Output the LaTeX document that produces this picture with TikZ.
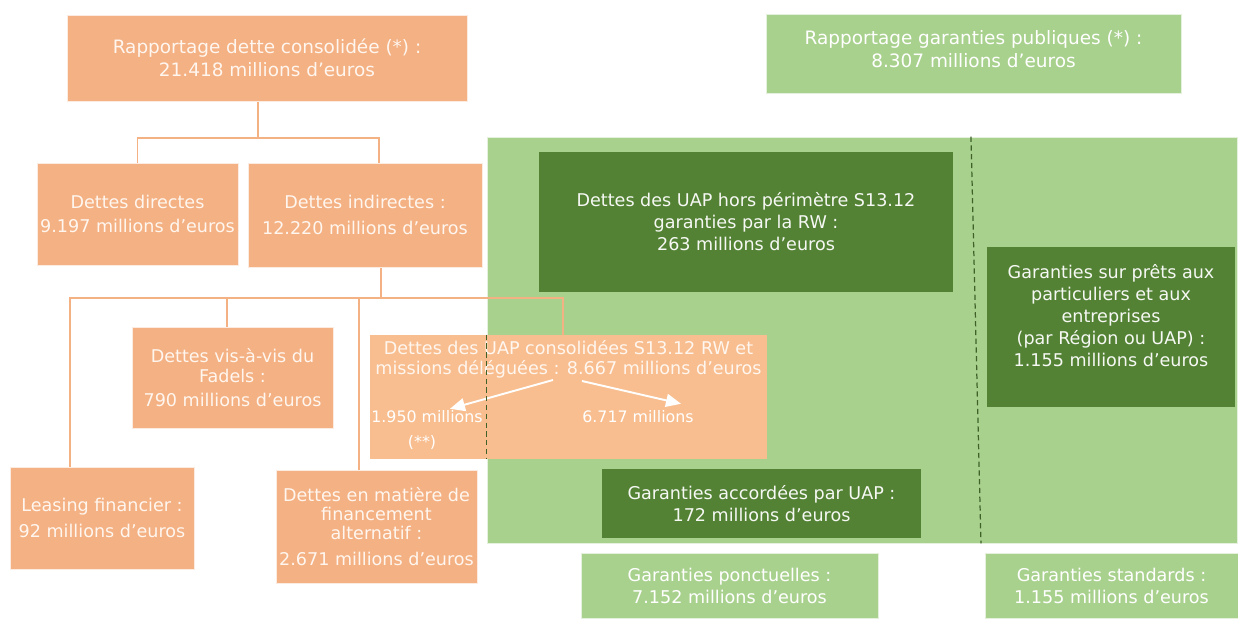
\documentclass[tikz,border=0pt]{standalone}
\usepackage{fontspec}
\setmainfont{DejaVu Sans}
\usetikzlibrary{arrows.meta, positioning, calc, backgrounds}
\definecolor{orbox}{HTML}{F4B183}
\definecolor{orlight}{HTML}{F8BE8F}
\definecolor{grlight}{HTML}{A9D18E}
\definecolor{grdark}{HTML}{548235}
\definecolor{txtor}{HTML}{FFF6EF}

\begin{document}
\begin{tikzpicture}[
    x=0.02cm, y=-0.02cm,
    every node/.style={font=\fontsize{10}{12.5}\selectfont, align=center, inner sep=0pt},
    obox/.style={rectangle, fill=orbox, draw=white!75!orbox, line width=0.5pt, text=txtor},
    gbox/.style={rectangle, fill=grlight, draw=white!70!grlight, line width=0.5pt, text=white},
    dbox/.style={rectangle, fill=grdark, text=white!94!grdark},
    big/.style={font=\fontsize{10.5}{13}\selectfont},
    link/.style={draw=orbox, line width=1.1pt},
    sep/.style={draw=grdark!75!black, dash pattern=on 3pt off 2pt, line width=0.7pt},
    warr/.style={-{Triangle[length=3mm, width=2.6mm]}, draw=white, line width=1.1pt},
    lbl/.style={font=\fontsize{9}{11}\selectfont, text=white, inner sep=1pt}
]
    \useasboundingbox (0,0) rectangle (1238,619);

    \node[obox, big, minimum width=8cm, minimum height=1.72cm]   (dette)      at (267,58)     {Rapportage dette consolidée (*) :\\21.418 millions d’euros};
    \node[gbox, big, minimum width=8.3cm, minimum height=1.58cm] (garpub)     at (973.5,53.5) {};
    \node[big, text=white] (garpublbl) at (973.5,49) {Rapportage garanties publiques (*) :\\8.307 millions d’euros};
    \node[obox, minimum width=4.02cm, minimum height=2.04cm]     (directes)   at (137.5,214)  {Dettes directes\\[1pt]9.197 millions d’euros};
    \node[obox, minimum width=4.68cm, minimum height=2.08cm]     (indirectes) at (365,215)    {Dettes indirectes :\\[2pt]12.220 millions d’euros};
    \node[obox, minimum width=4.02cm, minimum height=2.02cm]     (fadels)     at (232.5,377.5){Dettes vis-à-vis du\\[-1pt]Fadels :\\[1pt]790 millions d’euros};
    \node[obox, minimum width=3.68cm, minimum height=2.04cm]     (leasing)    at (102,518)    {Leasing financier :\\[2pt]92 millions d’euros};
    \node[obox, minimum width=4.02cm, minimum height=2.26cm]     (alternatif) at (376.5,526.5){Dettes en matière de\\[-1.5pt]financement\\[-1.5pt]alternatif :\\[2pt]2.671 millions d’euros};

    \node[rectangle, fill=orlight, minimum width=7.94cm, minimum height=2.48cm] (uapcons) at (568.5,397) {};
    \node[text=txtor, below=0.1cm of uapcons.north] (uaplbl) {Dettes des UAP consolidées S13.12 RW et\\[-1pt]missions déléguées : 8.667 millions d’euros};
    \node[lbl] (n1950)  at (427,417) {1.950 millions};
    \node[lbl] (n1950b) at (422,443) {(**)};
    \node[lbl] (n6717)  at (638,417) {6.717 millions};

    \begin{scope}[on background layer]
    \node[gbox, minimum width=15.02cm, minimum height=8.12cm] (garzone) at (862.5,340) {};
    \coordinate (top) at (258,138);
    \coordinate (bus) at (381,298);
    \draw[link] (dette.south -| top) -- (top);
    \draw[link] (directes.north) |- (top) -| ([xshift=0.28cm]indirectes.north);
    \draw[link] ([xshift=0.32cm]indirectes.south) -- (bus);
    \draw[link] ([xshift=-0.64cm]leasing.north) |- (bus) -| ([xshift=-0.11cm]uapcons.north);
    \draw[link] (bus) -| ([xshift=-0.11cm]fadels.north);
    \draw[link] (bus) -| ([xshift=-0.35cm]alternatif.north);
    \end{scope}

    \coordinate (splitl) at (553,380);
    \coordinate (splitr) at (582,381);
    \draw[warr] (splitl) -- ([xshift=0.46cm]n1950.north);
    \draw[warr] (splitr) -- ([xshift=0.86cm,yshift=0.1cm]n6717.north);
    \draw[sep] (uapcons.north -| garzone.west) -- (uapcons.south -| garzone.west);

    \node[dbox, minimum width=8.28cm, minimum height=2.8cm]  (horsper)  at (746,222)      {Dettes des UAP hors périmètre S13.12\\garanties par la RW :\\263 millions d’euros};
    \node[dbox, minimum width=4.96cm, minimum height=3.2cm]  (prets)    at (1111,327)     {};
    \node[text=white!94!grdark] (pretslbl) at (1111,316) {Garanties sur prêts aux\\particuliers et aux\\entreprises\\(par Région ou UAP) :\\1.155 millions d’euros};
    \node[dbox, minimum width=6.38cm, minimum height=1.38cm] (accord)   at (761.5,503.5)  {Garanties accordées par UAP :\\172 millions d’euros};
    \node[gbox, minimum width=5.94cm, minimum height=1.3cm]  (ponct)    at (729.5,585.5)  {Garanties ponctuelles :\\7.152 millions d’euros};
    \node[gbox, minimum width=5.06cm, minimum height=1.3cm]  (standard) at (1111.5,585.5) {Garanties standards :\\1.155 millions d’euros};
    \draw[sep] ([xshift=2.17cm]garzone.north) -- ([xshift=2.37cm]garzone.south);
\end{tikzpicture}
\end{document}
